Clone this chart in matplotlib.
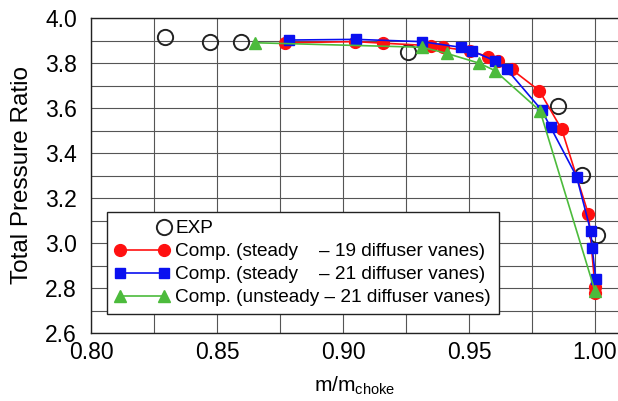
import matplotlib
matplotlib.use('Agg')
import matplotlib.pyplot as plt
from matplotlib.lines import Line2D
from matplotlib.legend_handler import HandlerLine2D
import numpy as np

plt.rcParams['font.family'] = ['Liberation Sans', 'DejaVu Sans']
plt.rcParams['mathtext.fontset'] = 'custom'
plt.rcParams['mathtext.rm'] = 'Liberation Sans'

# experiment
exp_x = [0.8294, 0.8472, 0.8596, 0.9259, 0.9854, 0.9947, 1.0007]
exp_y = [3.914, 3.892, 3.892, 3.848, 3.610, 3.302, 3.036]

# steady, 19 vanes
s19_x = [0.8770, 0.9048, 0.9160, 0.9348, 0.9398, 0.9504, 0.9577, 0.9614,
         0.9669, 0.9779, 0.9868, 0.9974, 1.0000, 1.0000]
s19_y = [3.890, 3.895, 3.888, 3.877, 3.870, 3.853, 3.828, 3.809,
         3.772, 3.677, 3.505, 3.128, 2.806, 2.776]

# steady, 21 vanes
s21_x = [0.8786, 0.9050, 0.9312, 0.9467, 0.9513, 0.9603, 0.9650, 0.9788,
         0.9824, 0.9927, 0.9983, 0.9989, 1.0003]
s21_y = [3.902, 3.905, 3.895, 3.870, 3.853, 3.810, 3.772, 3.591,
         3.514, 3.295, 3.053, 2.976, 2.840]

# unsteady, 21 vanes
u21_x = [0.8651, 0.9315, 0.9411, 0.9541, 0.9603, 0.9782, 1.0000]
u21_y = [3.890, 3.870, 3.843, 3.799, 3.766, 3.587, 2.786]

labels = ['EXP',
          'Comp. (steady    \u2013 19 diffuser vanes)',
          'Comp. (steady    \u2013 21 diffuser vanes)',
          'Comp. (unsteady \u2013 21 diffuser vanes)']

red = '#ff1010'
blue = '#0a10f0'
green = '#4cbb3c'


class RightMarkerHandler(HandlerLine2D):
    # only one marker, at the right end of the handle
    def get_xdata(self, legend, xdescent, ydescent, width, height, fontsize):
        pad = self._marker_pad * fontsize
        right = np.array([width - xdescent - pad])
        return right, right


fig = plt.figure(figsize=(6.18, 4.01), dpi=100)
ax = fig.add_axes((91 / 618, 1 - 333 / 401, 1 - 91 / 618, 315 / 401))

ax.plot(exp_x, exp_y, ls='none', marker='o', ms=11, mfc='none', mec='#222222', mew=1.4, zorder=3)
ax.plot(s19_x, s19_y, color=red, lw=1.2, marker='o', ms=8.5, mec=red, zorder=4)
ax.plot(s21_x, s21_y, color=blue, lw=1.2, marker='s', ms=7, mec=blue, zorder=5)
ax.plot(u21_x, u21_y, color=green, lw=1.2, marker='^', ms=8, mec=green, zorder=6)

ax.set_xlim(0.8, 0.8 + 527 / 2520)
ax.set_ylim(2.6, 4.0)
ax.set_xticks(np.arange(0.80, 1.001, 0.05))
ax.set_xticks(np.arange(0.80, 1.001, 0.025), minor=True)
ax.set_yticks(np.arange(2.6, 4.001, 0.2))
ax.set_yticks(np.arange(2.6, 4.001, 0.1), minor=True)
ax.set_xticklabels(['0.80', '0.85', '0.90', '0.95', '1.00'])
ax.set_yticklabels(['%.1f' % v for v in np.arange(2.6, 4.001, 0.2)])
ax.tick_params(which='both', length=0, labelsize=16.5)
ax.tick_params(axis='y', pad=10)
ax.tick_params(axis='x', pad=6)
ax.grid(which='both', color='#555555', lw=0.8)
ax.set_axisbelow(True)
ax.spines['right'].set_visible(False)
for s in ['left', 'bottom', 'top']:
    ax.spines[s].set_linewidth(1.0)
    ax.spines[s].set_color('#222222')

ax.set_xlabel('m/m$_{\\mathrm{choke}}$', fontsize=15, labelpad=7)
ax.set_ylabel('Total Pressure Ratio', fontsize=17.5, labelpad=9)

handles = [
    Line2D([], [], ls='none', marker='o', ms=11, mfc='none', mec='#222222', mew=1.4),
    Line2D([], [], color=red, lw=1.2, marker='o', ms=8.5, mec=red),
    Line2D([], [], color=blue, lw=1.2, marker='s', ms=7, mec=blue),
    Line2D([], [], color=green, lw=1.2, marker='^', ms=8, mec=green),
]
leg = ax.legend(handles, labels, loc='lower left', bbox_to_anchor=(0.03, 0.06),
                fontsize=13.7, numpoints=2, handlelength=2.9, handletextpad=0.3,
                labelspacing=0.3, borderpad=0.4, borderaxespad=0, fancybox=False,
                framealpha=1, edgecolor='#222222',
                handler_map={handles[0]: RightMarkerHandler()})
leg.get_frame().set_linewidth(1.0)

fig.savefig('out.png', dpi=100)
